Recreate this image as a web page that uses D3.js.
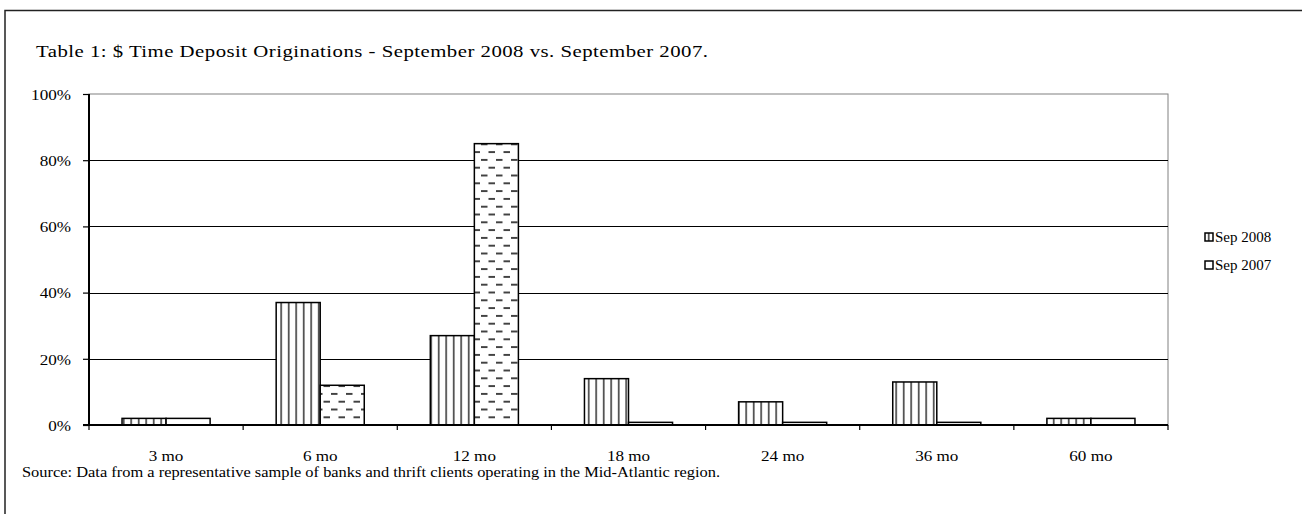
<!DOCTYPE html>
<html>
<head>
<meta charset="utf-8">
<script src="https://cdn.jsdelivr.net/npm/d3@7"></script>
<style>
  body { margin: 0; background: #fff; }
  svg { display: block; }
  svg text { font-family: "Liberation Serif", "Times New Roman", serif; fill: #000; }
</style>
</head>
<body>
<div id="chart"></div>
<script>
// Data
const categories = ["3 mo", "6 mo", "12 mo", "18 mo", "24 mo", "36 mo", "60 mo"];
const sep2008 = [0.02, 0.37, 0.27, 0.14, 0.07, 0.13, 0.02];
const sep2007 = [0.02, 0.12, 0.85, 0.008, 0.008, 0.008, 0.02];
const seriesNames = ["Sep 2008", "Sep 2007"];
const yTicks = [0, 0.2, 0.4, 0.6, 0.8, 1.0];

const titleText = "Table 1: $ Time Deposit Originations - September 2008 vs. September 2007.";
const sourceText = "Source: Data from a representative sample of banks and thrift clients operating in the Mid-Atlantic region.";

// Basic size information
const width = 1302, height = 514;
const plot = {left: 89, right: 1168, top: 94, bottom: 425};
const stretch = 1.14;   // text in the picture is a bit wider than plain Times

const svg = d3.select("#chart").append("svg")
    .attr("width", width)
    .attr("height", height)
    .style("font-size", "15px");

// helper: place a horizontally stretched text
function placeText(sel, tx, ty, sx) {
    sel.attr("x", 0).attr("y", 0)
       .attr("transform", "translate(" + tx + "," + ty + ") scale(" + sx + ",1)");
}

// Patterns
const defs = svg.append("defs");
const vp = defs.append("pattern")
    .attr("id", "vlines")
    .attr("patternUnits", "userSpaceOnUse")
    .attr("width", 7.5).attr("height", 8);
vp.append("rect").attr("width", 7.5).attr("height", 8).attr("fill", "#fff");
vp.append("rect").attr("x", 3).attr("width", 1.4).attr("height", 8).attr("fill", "#222");

const dp = defs.append("pattern")
    .attr("id", "dashes")
    .attr("patternUnits", "userSpaceOnUse")
    .attr("width", 15).attr("height", 15.6);
dp.append("rect").attr("width", 15).attr("height", 15.6).attr("fill", "#fff");
dp.append("rect").attr("x", 1).attr("y", 3).attr("width", 6.5).attr("height", 1.8).attr("fill", "#333");
dp.append("rect").attr("x", 8.5).attr("y", 10.8).attr("width", 6.5).attr("height", 1.8).attr("fill", "#333");

const fills = ["url(#vlines)", "url(#dashes)"];

// Outer frame (runs off the right and bottom edges)
svg.append("rect")
    .attr("x", 5).attr("y", 10.5)
    .attr("width", 1400).attr("height", 600)
    .attr("fill", "none").attr("stroke", "#222").attr("stroke-width", 1.5);

// Scales
const x = d3.scaleBand().domain(categories).range([plot.left, plot.right]).padding(0);
const y = d3.scaleLinear().domain([0, 1]).range([plot.bottom, plot.top]);
const barW = x.bandwidth() / 3.5;          // gap width 150%
const groupOffset = x.bandwidth() * 0.75 / 3.5;

// Plot area border (gray)
svg.append("rect")
    .attr("x", plot.left).attr("y", plot.top)
    .attr("width", plot.right - plot.left).attr("height", plot.bottom - plot.top)
    .attr("fill", "none").attr("stroke", "#808080").attr("stroke-width", 1);

// Gridlines
svg.append("g")
  .selectAll("line")
  .data(yTicks.filter(d => d > 0 && d < 1))
  .join("line")
    .attr("x1", plot.left).attr("x2", plot.right)
    .attr("y1", d => Math.round(y(d)) + 0.5).attr("y2", d => Math.round(y(d)) + 0.5)
    .attr("stroke", "#000").attr("stroke-width", 1.2);

// Bars
const series = [sep2008, sep2007];
series.forEach((vals, si) => {
    svg.append("g")
      .selectAll("rect")
      .data(categories)
      .join("rect")
        .attr("x", (d, i) => x(d) + groupOffset + si * barW)
        .attr("y", (d, i) => y(vals[i]))
        .attr("width", barW)
        .attr("height", (d, i) => y(0) - y(vals[i]))
        .attr("fill", fills[si])
        .attr("stroke", "#000")
        .attr("stroke-width", 1.5);
});

// Y axis
const yAxis = svg.append("g")
    .attr("transform", "translate(" + plot.left + ",0)")
    .call(d3.axisLeft(y).tickValues(yTicks).tickFormat(d3.format(".0%")).tickSize(6));
yAxis.attr("font-family", null).attr("font-size", null);
yAxis.select(".domain").attr("stroke", "#000").attr("stroke-width", 2).attr("d", "M0," + plot.top + "V" + plot.bottom);
yAxis.selectAll(".tick line").attr("stroke", "#000").attr("stroke-width", 1.2);
yAxis.selectAll(".tick text")
    .attr("dy", "0.35em")
    .attr("text-anchor", "end")
    .each(function() { placeText(d3.select(this), -18, 0, stretch); });

// X axis
const xAxis = svg.append("g")
    .attr("transform", "translate(0," + plot.bottom + ")");
xAxis.append("line")
    .attr("x1", plot.left - 6).attr("x2", plot.right)
    .attr("stroke", "#000").attr("stroke-width", 2);
xAxis.selectAll("line.tk")
  .data(categories.map(c => x(c)).concat([plot.right]))
  .join("line")
    .attr("class", "tk")
    .attr("x1", d => d).attr("x2", d => d)
    .attr("y1", 0).attr("y2", 5)
    .attr("stroke", "#000").attr("stroke-width", 1.2);
xAxis.selectAll("text")
  .data(categories)
  .join("text")
    .attr("text-anchor", "middle")
    .text(d => d)
    .each(function(d) { placeText(d3.select(this), x(d) + x.bandwidth() / 2, 36, stretch); });

// Title (wider glyphs in the picture) and source
const titleStretch = 1.3;
placeText(svg.append("text")
    .style("font-size", "16px")
    .attr("textLength", 672 / titleStretch)
    .attr("lengthAdjust", "spacing")
    .text(titleText), 36, 57, titleStretch);
placeText(svg.append("text")
    .attr("textLength", 698 / stretch)
    .attr("lengthAdjust", "spacingAndGlyphs")
    .text(sourceText), 22, 477, stretch);

// Legend
const legend = svg.append("g")
    .selectAll("g")
    .data(seriesNames)
    .join("g")
    .attr("transform", (d, i) => "translate(1205," + (237 + i * 28) + ")");
legend.append("rect")
    .attr("x", 0).attr("y", -4).attr("width", 8).attr("height", 8)
    .attr("fill", (d, i) => i === 0 ? "url(#vlines)" : "#fff")
    .attr("stroke", "#000").attr("stroke-width", 1.5);
legend.append("text")
    .attr("x", 10).attr("dy", "0.35em")
    .text(d => d);
</script>
</body>
</html>
